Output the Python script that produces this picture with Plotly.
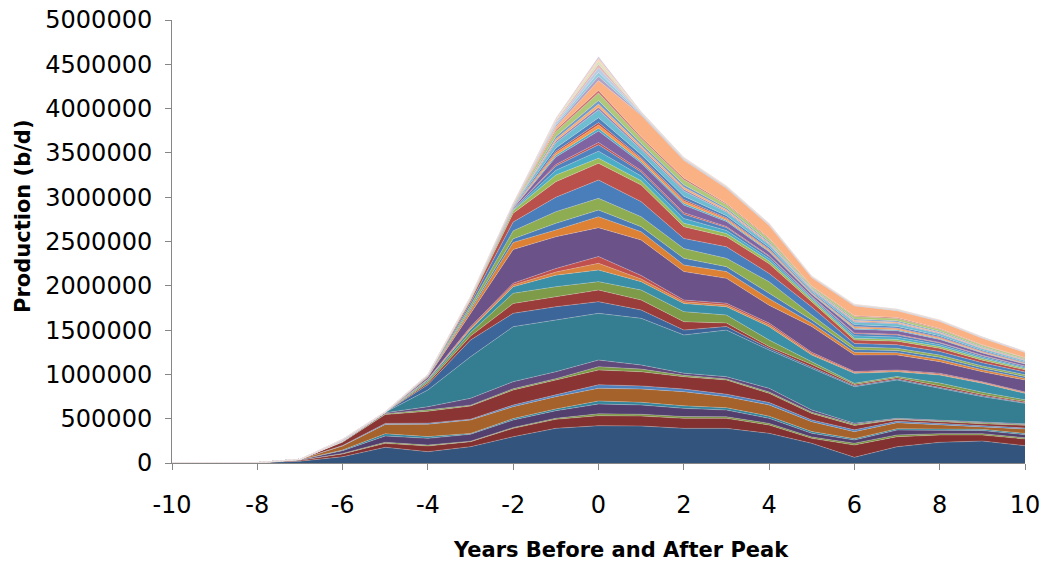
import plotly.graph_objects as go

# Years relative to peak
YEARS = list(range(-10, 11))
XTICKS = [-10, -8, -6, -4, -2, 0, 2, 4, 6, 8, 10]
XTICK_TEXT = ["-10", "-8", "-6", "-4", "-2", "0", "2", "4", "6", "8", "10"]

# Production by field (thousand b/d), bottom of stack first
S1 = [0, 0, 2, 20, 71, 177, 128, 184, 297, 391, 421, 418, 391, 391, 335, 222, 64, 184, 233, 248, 196]
S2 = [0, 0, 1, 10, 31, 45, 64, 57, 94, 102, 113, 112, 113, 113, 94, 56, 139, 113, 83, 68, 75]
S3 = [0, 0, 0, 2, 6, 12, 10, 5, 10, 12, 21, 20, 20, 18, 18, 15, 20, 20, 15, 15, 14]
S4 = [0, 0, 0, 5, 31, 71, 76, 78, 84, 85, 111, 105, 93, 76, 57, 42, 37, 55, 40, 35, 35]
S5 = [0, 0, 0, 1, 8, 25, 20, 10, 16, 20, 34, 30, 28, 26, 25, 20, 15, 15, 15, 14, 14]
S6 = [0, 0, 1, 3, 45, 105, 140, 151, 135, 139, 143, 150, 160, 125, 126, 111, 79, 68, 43, 30, 50]
S7 = [0, 0, 0, 0, 6, 12, 12, 10, 18, 20, 40, 35, 30, 28, 28, 20, 20, 15, 14, 12, 12]
S8 = [0, 0, 0, 0, 37, 100, 135, 148, 170, 168, 167, 160, 139, 160, 103, 74, 50, 20, 22, 20, 30]
S9 = [0, 0, 0, 0, 4, 10, 15, 10, 14, 15, 37, 30, 15, 12, 15, 13, 12, 7, 10, 8, 8]
S10 = [0, 0, 0, 0, 8, 10, 35, 77, 80, 78, 75, 46, 25, 25, 42, 25, 12, 7, 10, 8, 8]
S11 = [0, 0, 0, 0, 0, 5, 189, 470, 621, 584, 527, 527, 431, 526, 432, 470, 413, 433, 358, 291, 231]
S12 = [0, 0, 0, 0, 0, 0, 60, 188, 150, 150, 132, 94, 55, 40, 20, 15, 10, 10, 10, 10, 8]
S13 = [0, 0, 0, 0, 0, 0, 20, 45, 111, 113, 131, 113, 95, 40, 20, 30, 15, 15, 20, 15, 12]
S14 = [0, 0, 0, 0, 0, 0, 20, 40, 115, 113, 95, 112, 113, 90, 73, 30, 14, 15, 30, 25, 20]
S15 = [0, 0, 0, 0, 0, 0, 15, 35, 75, 130, 131, 95, 92, 94, 151, 76, 112, 53, 90, 101, 73]
S16 = [0, 0, 0, 0, 0, 0, 5, 15, 20, 35, 76, 30, 20, 20, 20, 15, 10, 10, 10, 8, 8]
S17 = [0, 0, 0, 0, 0, 0, 5, 15, 20, 40, 76, 40, 20, 20, 20, 15, 10, 10, 10, 8, 8]
S18 = [0, 0, 0, 0, 0, 0, 20, 150, 380, 359, 326, 400, 320, 280, 201, 291, 187, 170, 131, 114, 135]
S19 = [0, 0, 0, 0, 0, 0, 5, 35, 80, 76, 124, 93, 75, 76, 75, 38, 30, 25, 25, 22, 20]
S20 = [0, 0, 0, 0, 0, 0, 3, 20, 40, 75, 75, 57, 75, 56, 56, 37, 30, 25, 25, 22, 20]
S21 = [0, 0, 0, 0, 0, 0, 5, 35, 90, 132, 132, 113, 110, 94, 135, 55, 30, 25, 25, 22, 20]
S22 = [0, 0, 0, 0, 0, 0, 5, 30, 100, 163, 207, 170, 115, 130, 94, 90, 40, 40, 40, 35, 30]
S23 = [0, 0, 0, 0, 0, 0, 3, 25, 100, 175, 188, 187, 132, 114, 110, 60, 40, 40, 35, 30, 25]
S24 = [0, 0, 0, 0, 0, 0, 0, 14, 30, 75, 58, 50, 40, 36, 30, 25, 20, 20, 20, 18, 15]
T1 = [0, 0, 0, 0, 2, 1, 1, 3, 7, 53, 80, 52, 53, 35, 27, 16, 27, 26, 21, 16, 13]
T2 = [0, 0, 0, 0, 2, 1, 1, 2, 6, 48, 72, 46, 48, 32, 24, 14, 24, 23, 19, 15, 12]
T3 = [0, 0, 0, 0, 1, 0, 0, 1, 2, 17, 25, 16, 17, 11, 9, 5, 8, 8, 7, 5, 4]
T4 = [0, 0, 0, 0, 3, 1, 2, 4, 11, 86, 130, 84, 86, 58, 44, 26, 43, 42, 34, 27, 21]
T5 = [0, 0, 0, 0, 1, 0, 0, 1, 3, 20, 30, 19, 20, 13, 10, 6, 10, 10, 8, 6, 5]
T6 = [0, 0, 0, 0, 1, 0, 1, 1, 3, 27, 40, 26, 26, 18, 14, 8, 13, 13, 11, 8, 6]
T7 = [0, 0, 0, 0, 1, 0, 0, 1, 2, 17, 25, 16, 17, 11, 8, 5, 8, 8, 7, 5, 4]
T8 = [0, 0, 0, 0, 1, 0, 1, 2, 5, 36, 54, 35, 36, 24, 18, 11, 18, 17, 14, 11, 9]
T9 = [0, 0, 0, 0, 2, 1, 1, 3, 8, 60, 90, 58, 60, 40, 31, 18, 30, 29, 24, 18, 14]
T10 = [0, 0, 0, 0, 1, 0, 0, 1, 3, 20, 30, 19, 20, 13, 10, 6, 10, 10, 8, 6, 5]
T11 = [0, 0, 0, 0, 1, 0, 0, 1, 3, 23, 35, 23, 23, 16, 12, 7, 12, 11, 9, 7, 6]
T12 = [0, 0, 0, 0, 1, 0, 1, 1, 3, 27, 40, 26, 27, 18, 14, 8, 13, 13, 11, 8, 6]
T13 = [0, 0, 0, 0, 2, 1, 1, 3, 7, 57, 85, 55, 56, 38, 29, 17, 28, 27, 22, 17, 14]
T14 = [0, 0, 0, 0, 1, 0, 0, 1, 3, 20, 30, 19, 20, 13, 10, 6, 10, 10, 8, 6, 5]
LO = [0, 0, 0, 0, 0, 0, 0, 2, 5, 30, 110, 245, 200, 170, 140, 94, 110, 75, 80, 75, 56]
P1 = [0, 0, 0, 0, 0, 0, 0, 1, 2, 18, 50, 8, 7, 6, 5, 4, 5, 5, 4, 3, 3]
P2 = [0, 0, 0, 0, 0, 0, 0, 1, 2, 17, 45, 7, 6, 5, 4, 4, 3, 3, 3, 3, 2]
P3 = [0, 0, 0, 0, 0, 0, 0, 1, 2, 18, 50, 7, 6, 5, 4, 3, 3, 3, 3, 2, 2]
P4 = [0, 0, 0, 0, 0, 0, 0, 1, 1, 15, 40, 6, 5, 5, 4, 3, 3, 3, 3, 2, 2]
P5 = [0, 0, 0, 0, 0, 0, 0, 1, 1, 13, 35, 5, 5, 4, 3, 3, 3, 3, 2, 2, 1]
P6 = [0, 0, 0, 0, 0, 0, 0, 1, 1, 11, 30, 4, 4, 3, 3, 2, 2, 2, 2, 2, 1]
P7 = [0, 0, 0, 0, 0, 0, 0, 0, 1, 8, 20, 3, 2, 2, 2, 1, 1, 1, 1, 1, 1]

SERIES = [S1, S2, S3, S4, S5, S6, S7, S8, S9, S10, S11, S12, S13, S14, S15, S16,
          S17, S18, S19, S20, S21, S22, S23, S24, T1, T2, T3, T4, T5, T6, T7, T8,
          T9, T10, T11, T12, T13, T14, LO, P1, P2, P3, P4, P5, P6, P7]

COLORS = ["#33557D", "#823130", "#77933C", "#523F6D", "#31849B", "#A5622A",
          "#4F81BD", "#8A3534", "#7A9A45", "#604A7B", "#357E92", "#3C6699",
          "#9A3D3A", "#7D9B48", "#3A8FA6", "#D8823E", "#C0504D", "#6B538A",
          "#DD8135", "#4B7BB4", "#8EAD53", "#4A7EBB", "#B9504C", "#9BBB59",
          "#4BACC6", "#4F81BD", "#C0504D", "#8064A2", "#4BACC6", "#F79646",
          "#C0504D", "#4F81BD", "#6FBDD1", "#9983B5", "#F9AB6B", "#729ACA",
          "#AFC97A", "#CD7371", "#FAB285", "#B3A2C7", "#93CDDD", "#B9CDE5",
          "#E6B9B8", "#D7E4BD", "#FCD5B5", "#CCC1DA"]

UNIT = 1000  # values above are in thousand b/d

fig = go.Figure()
for i, (vals, col) in enumerate(zip(SERIES, COLORS)):
    fig.add_trace(go.Scatter(
        x=YEARS, y=[v * UNIT for v in vals], mode="lines",
        stackgroup="one", line=dict(width=0.6, color="rgba(235,225,225,0.45)"),
        fillcolor=col, name=f"Field {i + 1}", showlegend=False,
        hoverinfo="skip"))

axis_col = "#868686"
fig.update_layout(
    width=1043, height=563,
    margin=dict(l=172, r=18, t=20, b=100, autoexpand=False),
    paper_bgcolor="white", plot_bgcolor="white",
    font=dict(family="DejaVu Sans", color="black"),
    xaxis=dict(range=[-10, 10], tickmode="array", tickvals=XTICKS,
               ticktext=XTICK_TEXT, automargin=False, ticklabeloverflow="allow",
               showgrid=False, zeroline=False, showline=True,
               linecolor=axis_col, linewidth=1, ticks="outside",
               ticklen=6, tickcolor=axis_col, tickfont=dict(size=24),
               ticklabelstandoff=14),
    yaxis=dict(range=[0, 5000000], tickmode="linear", tick0=0, dtick=500000,
               automargin=False, ticklabeloverflow="allow",
               showgrid=False, zeroline=False, showline=True,
               linecolor=axis_col, linewidth=1, ticks="outside",
               ticklen=6, tickcolor=axis_col, tickfont=dict(size=24),
               tickformat="d", ticklabelstandoff=8),
    annotations=[
        dict(text="<b>Years Before and After Peak</b>", xref="paper", yref="paper",
             x=0.526, y=-0.196, xanchor="center", yanchor="middle",
             showarrow=False, font=dict(size=21)),
        dict(text="<b>Production (b/d)</b>", xref="paper", yref="paper",
             x=-0.1747, y=0.5576, xanchor="center", yanchor="middle",
             textangle=-90, showarrow=False, font=dict(size=21)),
    ],
)

# remove the default page margin so the figure sits at the window's top-left
fig.write_html(
    "out.html",
    config={"displayModeBar": False},
    post_script="document.body.style.margin='0';document.body.style.overflow='hidden';",
)
